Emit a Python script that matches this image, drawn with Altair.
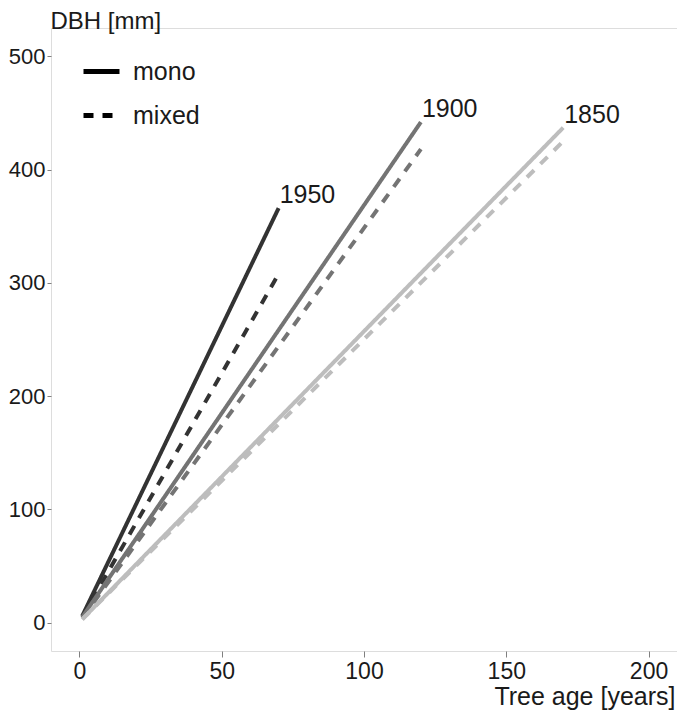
import altair as alt
import pandas as pd

# Data
cohort = ["1950", "1950", "1900", "1900", "1850", "1850"]
stand = ["mono", "mixed", "mono", "mixed", "mono", "mixed"]
age_start = [1, 1, 1, 1, 1, 1]
dbh_start = [6, 5, 5, 4, 3, 3]
age_end = [70, 70, 120, 120, 170, 170]
dbh_end = [366, 308, 442, 418, 437, 425]

label_text = ["1950", "1900", "1850"]
label_age = [70, 120, 170]
label_dbh = [366, 442, 437]

x_ticks = [0, 50, 100, 150, 200]
y_ticks = [0, 100, 200, 300, 400, 500]

rows = []
for c, s, a0, d0, a1, d1 in zip(cohort, stand, age_start, dbh_start, age_end, dbh_end):
    rows.append({"cohort": c, "stand": s, "key": c + s, "age": a0, "dbh": d0})
    rows.append({"cohort": c, "stand": s, "key": c + s, "age": a1, "dbh": d1})
df = pd.DataFrame(rows)
labels = pd.DataFrame({"label": label_text, "age": label_age, "dbh": label_dbh})

FONT = "Liberation Sans"
GRAY = "#7f7f7f"
W, H = 626, 623

xs = alt.Scale(domain=[-10, 210], nice=False, zero=False)
ys = alt.Scale(domain=[-25, 525], nice=False, zero=False)

x_axis = alt.Axis(
    title="Tree age [years]", values=x_ticks, grid=False, domain=False,
    tickSize=6, tickColor=GRAY, tickWidth=1, labelFontSize=23, labelPadding=3,
    labelColor="#1a1a1a", labelFont=FONT, titleFont=FONT, titleFontSize=25,
    titleFontWeight="normal", titleColor="#1a1a1a", titleAlign="right",
    titleAnchor="end", titleX=W - 2, titleY=53, titleBaseline="alphabetic",
)
y_axis = alt.Axis(
    title="DBH [mm]", values=y_ticks, grid=False, domain=False,
    tickSize=4, tickColor=GRAY, tickWidth=1, labelFontSize=22, labelPadding=2,
    labelColor="#1a1a1a", labelFont=FONT, titleFont=FONT, titleFontSize=24,
    titleFontWeight="normal", titleColor="#1a1a1a", titleAngle=0,
    titleAlign="left", titleX=-1, titleY=0, titleBaseline="alphabetic",
)

lines = alt.Chart(df).mark_line(strokeWidth=4, strokeCap="butt").encode(
    x=alt.X("age:Q", scale=xs, axis=x_axis),
    y=alt.Y("dbh:Q", scale=ys, axis=y_axis),
    color=alt.Color(
        "cohort:N",
        scale=alt.Scale(domain=["1950", "1900", "1850"],
                        range=["#333333", "#747474", "#bdbdbd"]),
        legend=None,
    ),
    strokeDash=alt.StrokeDash(
        "stand:N",
        scale=alt.Scale(domain=["mono", "mixed"], range=[[1, 0], [10, 9]]),
        legend=alt.Legend(
            orient="none", legendX=30, legendY=23, title=None,
            symbolType="stroke", symbolSize=1296, symbolStrokeWidth=5,
            symbolStrokeColor="black", labelFontSize=25, labelFont=FONT,
            labelColor="#1a1a1a", labelOffset=11, rowPadding=10, padding=0,
        ),
    ),
    detail="key:N",
)

text = alt.Chart(labels).mark_text(
    align="left", baseline="alphabetic", dx=1, dy=-5, fontSize=25,
    font=FONT, color="#1a1a1a",
).encode(
    x=alt.X("age:Q", scale=xs),
    y=alt.Y("dbh:Q", scale=ys),
    text="label:N",
)

chart = (
    alt.layer(lines, text)
    .properties(width=W, height=H,
                autosize=alt.AutoSizeParams(type="none"),
                padding={"left": 43, "top": 20, "right": 0, "bottom": 60})
    .configure_view(stroke=GRAY, strokeWidth=1.2)
    .configure(background="white")
)

chart.save("out.html", embed_options={"renderer": "svg", "actions": False})
